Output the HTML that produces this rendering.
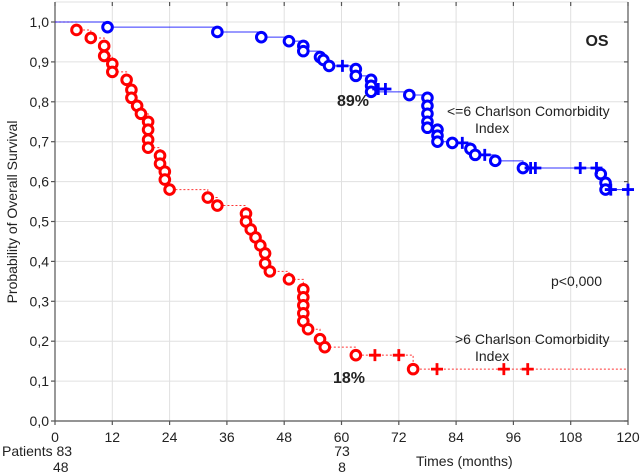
<!DOCTYPE html>
<html><head><meta charset="utf-8"><style>
html,body{margin:0;padding:0;background:#fff;}
svg{display:block;font-family:"Liberation Sans",Arial,sans-serif;}
</style></head><body>
<svg id="chart" width="641" height="473" viewBox="0 0 641 473" xmlns="http://www.w3.org/2000/svg"></svg>
<script>
const xTicks=[0,12,24,36,48,60,72,84,96,108,120];
const yTicks=[0,0.1,0.2,0.3,0.4,0.5,0.6,0.7,0.8,0.9,1.0];
const yTickLabels=["0,0","0,1","0,2","0,3","0,4","0,5","0,6","0,7","0,8","0,9","1,0"];
const redTimes=[4.5,7.5,10.3,10.3,12,12,15,16,16,17.2,18,19.5,19.5,19.5,19.5,22,22,23,23,24,32,34,40,40,41,42,43,44,44,45,49,52,52,52,52,52,53,55.5,56.5,63,75];
const redSurv=[0.98,0.96,0.94,0.915,0.895,0.875,0.855,0.83,0.81,0.79,0.77,0.75,0.73,0.705,0.685,0.665,0.645,0.625,0.605,0.58,0.56,0.54,0.52,0.50,0.48,0.46,0.44,0.42,0.395,0.375,0.355,0.33,0.31,0.29,0.27,0.25,0.23,0.205,0.185,0.165,0.13];
const redCensT=[67,72,80,94,99];
const redCensS=[0.165,0.165,0.13,0.13,0.13];
const blueTimes=[11,34,43.2,49,52,52,55.5,56.2,57.4,63,63,66.2,66.2,66.2,74.2,78,78,78,78,78,80.1,80.1,80.1,83.2,87,88,92.2,98,114.3,115.3,115.3];
const blueSurv=[0.987,0.975,0.962,0.952,0.94,0.927,0.912,0.905,0.89,0.882,0.865,0.855,0.84,0.825,0.817,0.81,0.79,0.77,0.75,0.735,0.73,0.715,0.70,0.697,0.682,0.667,0.652,0.634,0.619,0.597,0.58];
const blueCensT=[60.2,67.7,69.2,85.3,90,99.6,100.6,110,113.4,116.4,120];
const blueCensS=[0.89,0.832,0.832,0.697,0.667,0.634,0.634,0.634,0.634,0.58,0.58];

const NS="http://www.w3.org/2000/svg";
const svg=document.getElementById('chart');
const X0=55,X1=628,Y0=421,Y1=22;
function sx(t){return X0+(t/120)*(X1-X0);}
function sy(v){return Y0-v*(Y0-Y1);}
function mk(tag,attrs,parent){const e=document.createElementNS(NS,tag);for(const k in attrs)e.setAttribute(k,attrs[k]);(parent||svg).appendChild(e);return e;}

const grid=mk('g',{});


xTicks.forEach(t=>{if(t>0&&t<120){const l=mk('line',{x1:sx(t),x2:sx(t),y1:2,y2:Y0,stroke:'#e0e0e0','stroke-width':1},grid);

}});
yTicks.forEach(v=>{if(v>0){const l=mk('line',{x1:X0,x2:X1,y1:sy(v),y2:sy(v),stroke:'#e0e0e0','stroke-width':1},grid);

}});
mk('line',{x1:X0,x2:X1,y1:2,y2:2,stroke:'#e0e0e0'},grid);

const axes=mk('g',{stroke:'#555','stroke-width':1.2});


mk('line',{x1:X0,x2:X0,y1:2,y2:Y0},axes);
mk('line',{x1:X0,x2:X1,y1:Y0,y2:Y0},axes);
mk('line',{x1:X1,x2:X1,y1:2,y2:Y0},axes);
xTicks.forEach((t,i)=>{
  mk('line',{x1:sx(t),x2:sx(t),y1:Y0,y2:Y0+4},axes);
  mk('line',{x1:sx(t),x2:sx(t),y1:2,y2:6},axes);
  const tx=mk('text',{x:sx(t),y:442,'text-anchor':'middle','font-size':14,fill:'#222',stroke:'none'});
  tx.textContent=String(t);
  
  
});
yTicks.forEach((v,i)=>{
  mk('line',{x1:X0-4,x2:X0,y1:sy(v),y2:sy(v)},axes);
  mk('line',{x1:X1,x2:X1-4,y1:sy(v),y2:sy(v)},axes);
  const tx=mk('text',{x:X0-6,y:sy(v)+5,'text-anchor':'end','font-size':14,fill:'#222',stroke:'none'});
  tx.textContent=yTickLabels[i];
  
  
});

function stepPath(ts,ss){let d='M'+sx(0)+','+sy(1);for(let i=0;i<ts.length;i++){d+=' H'+sx(ts[i])+' V'+sy(ss[i]);}d+=' H'+sx(120);return d;}

function series(ts,ss,cts,css,color,dash,name){
  const g=mk('g',{});
  
  
  const p=mk('path',{d:stepPath(ts,ss),fill:'none',stroke:color,'stroke-width':1,'stroke-dasharray':dash,opacity:0.8},g);
  
  
  for(let i=0;i<ts.length;i++){
    const c=mk('circle',{cx:sx(ts[i]),cy:sy(ss[i]),r:4.8,fill:'#fff',stroke:color,'stroke-width':3},g);
    
    
  }
  for(let i=0;i<cts.length;i++){
    const x=sx(cts[i]),y=sy(css[i]);
    const pl=mk('path',{d:`M${x-6},${y} H${x+6} M${x},${y-6} V${y+6}`,stroke:color,'stroke-width':2.8},g);
    
    
  }
}
series(redTimes,redSurv,redCensT,redCensS,'#f00','2,2','high-cci-series');
series(blueTimes,blueSurv,blueCensT,blueCensS,'#00f','none','low-cci-series');

function txt(x,y,s,opts,name){const t=mk('text',Object.assign({x:x,y:y,'font-size':14,fill:'#222'},opts||{}));t.textContent=s;

return t;}
txt(597,46,'OS',{'font-weight':'bold','font-size':16,'text-anchor':'middle'},'panel-title');
txt(353,106,'89%',{'font-weight':'bold','font-size':16,'text-anchor':'middle'},'low-cci-percent');
txt(349,383,'18%',{'font-weight':'bold','font-size':16,'text-anchor':'middle'},'high-cci-percent');
txt(447,116,'<=6 Charlson Comorbidity',{},'low-cci-label');
txt(475,133,'Index',{},'low-cci-label-line2');
txt(455,344,'>6 Charlson Comorbidity',{},'high-cci-label');
txt(475,361,'Index',{},'high-cci-label-line2');
txt(551,286,'p<0,000',{},'p-value');
txt(416,466,'Times (months)',{},'x-axis-title');
txt(2,456,'Patients 83',{},'patients-row-1');
txt(53,472,'48',{},'patients-row-2');
txt(342,456,'73',{'text-anchor':'middle'},'patients-60-row-1');
txt(342,472,'8',{'text-anchor':'middle'},'patients-60-row-2');
txt(0,0,'Probability of Overall Survival',{'text-anchor':'middle',transform:'translate(17,212) rotate(-90)'},'y-axis-title');
</script>
</body></html>
